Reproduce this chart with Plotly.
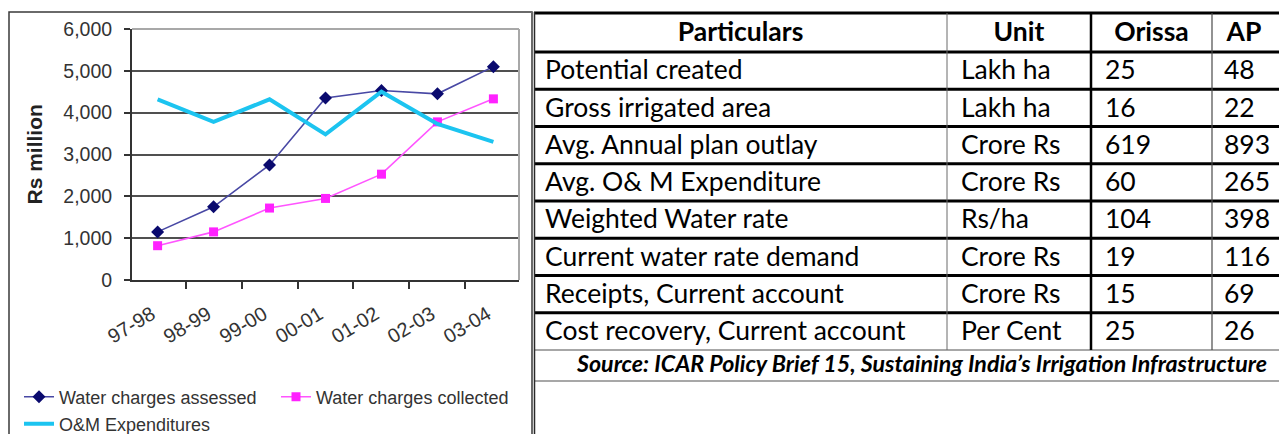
import plotly.graph_objects as go

# ---------------- data ----------------
years = ["97-98", "98-99", "99-00", "00-01", "01-02", "02-03", "03-04"]
assessed = [1150, 1750, 2750, 4350, 4530, 4450, 5100]
collected = [820, 1150, 1720, 1950, 2530, 3780, 4330]
om_exp = [4320, 3780, 4320, 3480, 4500, 3730, 3300]

headers = ["Particulars", "Unit", "Orissa", "AP"]
particulars = ["Potential created", "Gross irrigated area", "Avg. Annual plan outlay",
               "Avg. O& M Expenditure", "Weighted Water rate", "Current water rate demand",
               "Receipts, Current account", "Cost recovery, Current account"]
units = ["Lakh ha", "Lakh ha", "Crore Rs", "Crore Rs", "Rs/ha", "Crore Rs", "Crore Rs", "Per Cent"]
orissa = [25, 16, 619, 60, 104, 19, 15, 25]
ap = [48, 22, 893, 265, 398, 116, 69, 26]
source_text = "Source: ICAR Policy Brief 15, Sustaining India\u2019s Irrigation Infrastructure"

# ---------------- layout geometry (pixels) ----------------
W, H = 1279, 434
def px(x):
    return x / W
def py(y):
    return (H - y) / H

plot_l, plot_r, plot_t, plot_b = 132, 519, 29, 280

col_edges = [534, 947, 1091, 1212, 1282]
col_pad = [11, 14, 14, 12]
head_top, head_bot = 13, 52
row_h = (350 - 52) / 8
src_bot = 381

chart_font = "Liberation Sans, Arial, sans-serif"
tab_font = "Lato, Calibri, sans-serif"

fig = go.Figure()

# ---------------- chart ----------------
fig.add_trace(go.Scatter(
    x=years, y=assessed, name="Water charges assessed", mode="lines+markers",
    line=dict(color="#4848a4", width=1.6),
    marker=dict(symbol="diamond", size=10, color="#0a0a6e"),
    legend="legend"))
fig.add_trace(go.Scatter(
    x=years, y=collected, name="Water charges collected", mode="lines+markers",
    line=dict(color="#ff55ff", width=1.6),
    marker=dict(symbol="square", size=9, color="#ff22ff"),
    legend="legend2"))
fig.add_trace(go.Scatter(
    x=years, y=om_exp, name="O&M Expenditures", mode="lines",
    line=dict(color="#1cc4f0", width=4),
    legend="legend3"))

# ---------------- table (text on a pixel-scaled overlay axis) ----------------
row_centers = [head_bot + row_h * (i + 0.5) for i in range(len(particulars))]
head_center = (head_top + head_bot) / 2

def col_left(c):
    return col_edges[c] + col_pad[c]

# headers
fig.add_trace(go.Scatter(
    x=[(col_edges[c] + col_edges[c + 1]) / 2 if c < 3 else (col_edges[c] + 1276) / 2 for c in range(4)],
    y=[head_center + 2] * 4, text=headers, mode="text", textposition="middle center",
    textfont=dict(family=tab_font, size=26.5, color="#000000", weight="bold"),
    xaxis="x2", yaxis="y2", showlegend=False, hoverinfo="skip", cliponaxis=False))

for c, col_vals in enumerate([particulars, units, [str(v) for v in orissa], [str(v) for v in ap]]):
    fig.add_trace(go.Scatter(
        x=[col_left(c)] * len(col_vals), y=[yc + 2 for yc in row_centers], text=col_vals,
        mode="text", textposition="middle right",
        textfont=dict(family=tab_font, size=26.5, color="#000000"),
        xaxis="x2", yaxis="y2", showlegend=False, hoverinfo="skip", cliponaxis=False))

fig.add_trace(go.Scatter(
    x=[922], y=[(350 + src_bot) / 2 + 1], text=[source_text], mode="text",
    textposition="middle center",
    textfont=dict(family=tab_font, size=23.2, color="#000000", weight="bold", style="italic"),
    xaxis="x2", yaxis="y2", showlegend=False, hoverinfo="skip", cliponaxis=False))

shapes = []
# chart outer box
shapes.append(dict(type="rect", xref="paper", yref="paper", x0=px(9), x1=px(532), y0=py(445), y1=py(12),
                   line=dict(color="#3a3a3a", width=1.5), fillcolor="rgba(0,0,0,0)", layer="below"))
# plot area top/right border (light grey)
shapes.append(dict(type="line", xref="x domain", yref="y domain", x0=0, x1=1, y0=1, y1=1,
                   line=dict(color="#a8a8a8", width=2)))
shapes.append(dict(type="line", xref="x domain", yref="y domain", x0=1, x1=1, y0=0, y1=1,
                   line=dict(color="#a8a8a8", width=2)))

# table horizontal lines
hlines = [head_top, head_bot] + [head_bot + row_h * i for i in range(1, 8)]
for yv in hlines:
    shapes.append(dict(type="line", xref="x2", yref="y2", x0=col_edges[0], x1=1282, y0=yv, y1=yv,
                       line=dict(color="#000000", width=3)))
for yv in [350, src_bot]:
    shapes.append(dict(type="line", xref="x2", yref="y2", x0=col_edges[0], x1=1282, y0=yv, y1=yv,
                       line=dict(color="#8a8a8a", width=1.5)))
# table vertical lines
shapes.append(dict(type="line", xref="x2", yref="y2", x0=531.5, x1=531.5, y0=12, y1=350,
                   line=dict(color="#6a6a6a", width=1)))
shapes.append(dict(type="line", xref="x2", yref="y2", x0=534.5, x1=534.5, y0=12, y1=440,
                   line=dict(color="#2a2a2a", width=1.5)))
shapes.append(dict(type="line", xref="x2", yref="y2", x0=947, x1=947, y0=head_top, y1=350,
                   line=dict(color="#6a6a6a", width=1)))
shapes.append(dict(type="line", xref="x2", yref="y2", x0=1091, x1=1091, y0=head_top, y1=350,
                   line=dict(color="#000000", width=2.5)))
shapes.append(dict(type="line", xref="x2", yref="y2", x0=1212, x1=1212, y0=head_top, y1=350,
                   line=dict(color="#4a4a4a", width=1.2)))

leg_font = dict(family=chart_font, size=18, color="#333333")

fig.update_layout(
    width=W, height=H, autosize=False,
    margin=dict(l=0, r=0, t=0, b=0, pad=0, autoexpand=False),
    paper_bgcolor="white", plot_bgcolor="rgba(0,0,0,0)",
    font=dict(family=chart_font, color="#333333"),
    xaxis=dict(domain=[px(plot_l), px(plot_r)], type="category", tickson="boundaries",
               ticks="outside", ticklen=7, tickwidth=1.5, tickcolor="#333333",
               showline=True, linecolor="#333333", linewidth=2, showgrid=False,
               tickangle=-31, tickfont=dict(family=chart_font, size=20, color="#333333"),
               ticklabelstandoff=13, ticklabelshift=-6,
               automargin=False, fixedrange=True),
    yaxis=dict(domain=[py(plot_b), py(plot_t)], range=[0, 6000], dtick=1000, tickformat=",",
               ticks="outside", ticklen=6, tickwidth=1.5, tickcolor="#333333",
               showline=True, linecolor="#333333", linewidth=2,
               showgrid=True, gridcolor="#505050", gridwidth=2, zeroline=False,
               tickfont=dict(family=chart_font, size=19.5, color="#333333"),
               ticklabelstandoff=8, automargin=False, fixedrange=True),
    xaxis2=dict(domain=[0, 1], range=[0, W], visible=False, fixedrange=True, anchor="y2",
                automargin=False),
    yaxis2=dict(domain=[0, 1], range=[H, 0], visible=False, fixedrange=True, anchor="x2",
                automargin=False),
    shapes=shapes,
    annotations=[dict(text="<b>Rs million</b>", textangle=-90, xref="paper", yref="paper",
                      x=px(34), y=py((plot_t + plot_b) / 2), showarrow=False,
                      font=dict(family=chart_font, size=21, color="#222222"),
                      xanchor="center", yanchor="middle")],
    legend=dict(x=px(19), y=py(397), xanchor="left", yanchor="middle", orientation="h",
                font=leg_font, bgcolor="rgba(0,0,0,0)", borderwidth=0),
    legend2=dict(x=px(276), y=py(397), xanchor="left", yanchor="middle", orientation="h",
                 font=leg_font, bgcolor="rgba(0,0,0,0)", borderwidth=0),
    legend3=dict(x=px(19), y=py(424), xanchor="left", yanchor="middle", orientation="h",
                 font=leg_font, bgcolor="rgba(0,0,0,0)", borderwidth=0),
    showlegend=True,
)

fig.write_html("out.html")
